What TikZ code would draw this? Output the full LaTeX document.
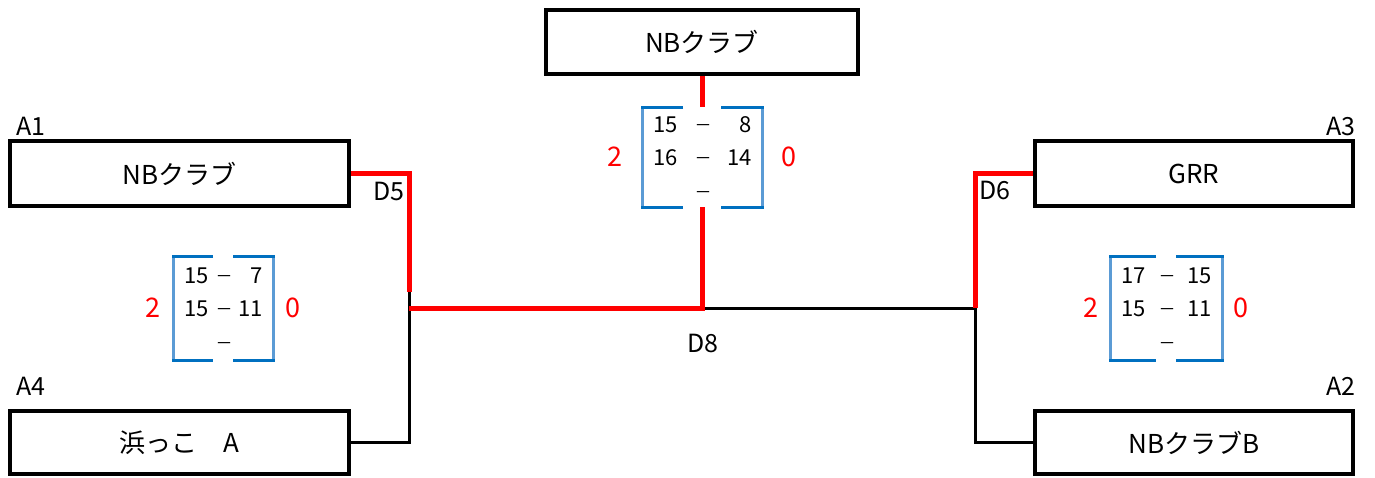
\documentclass[tikz,border=0pt]{standalone}
\usepackage{fontspec}
\setmainfont{Noto Sans CJK JP}
\definecolor{brdark}{RGB}{0,112,192}
\definecolor{brlight}{RGB}{91,155,213}
\begin{document}
\begin{tikzpicture}[x=1pt,y=-1pt,
	team/.style={draw,line width=4pt,inner sep=0pt,font=\fontsize{26}{30}\selectfont},
	seed/.style={inner sep=0pt,font=\fontsize{25}{28}\selectfont},
	win/.style={red,line width=5pt},
	lose/.style={black,line width=3pt},
	brk/.style={brdark,line width=3pt},
	pt/.style={inner sep=0pt,font=\fontsize{22}{25}\selectfont},
	bar/.style={inner sep=0pt,anchor=base,font=\fontsize{17}{20}\selectfont},
	sets/.style={red,inner sep=0pt,font=\fontsize{27}{30}\selectfont}]
	\useasboundingbox (0,0) rectangle (1375,477);
	% チーム
	\node[team,minimum width=312pt,minimum height=64pt] (top) at (702,42) {NBクラブ};
	\node[team,minimum width=339pt,minimum height=65pt] (a1) at (179.5,173.5) {NBクラブ};
	\node[team,minimum width=339pt,minimum height=63pt] (a4) at (179.5,442.5) {浜っこ　A};
	\node[team,minimum width=318pt,minimum height=65pt] (a3) at (1194,173.5) {GRR};
	\node[team,minimum width=318pt,minimum height=63pt] (a2) at (1194,442.5) {NBクラブB};
	\node[seed,anchor=base west] (la1) at (16,135) {A1};
	\node[seed,anchor=base west] (la4) at (16,395) {A4};
	\node[seed,anchor=base east] (la3) at (1356,135) {A3};
	\node[seed,anchor=base east] (la2) at (1356,395) {A2};
	% 山
	\coordinate (d5) at (409,308);
	\coordinate (d5r) at (409,292);
	\coordinate (d8) at (702,308);
	\coordinate (d6) at (975,308);
	\coordinate (f8t) at (702,107);
	\coordinate (f8b) at (702,207);
	\draw[lose] (a4.east) -| (d5r);
	\draw[lose] (a2.west) -| (d6) -- (d8);
	\draw[win] (a1.east) -| (d5r);
	\draw[win] (d5) -- (d8) -- (f8b);
	\draw[win] (top.south) -- (f8t);
	\draw[win] (a3.west) -| (d6);
	\node[seed,anchor=base west] (ld5) at (373,200) {D5};
	\node[seed,anchor=base west] (ld6) at (979,199) {D6};
	\node[seed,anchor=base] (ld8) at (703,352) {D8};
	% スコア
	\foreach \n/\cx/\cy/\hw/\hh/\hg/\ro/\pa/\pb/\qa/\qb in
		{s8/702/157/60/50/19/87/15/8/16/14,
		 s5/223/308/50/52/10/70/15/7/15/11,
		 s6/1166/308/56/52/10/75/17/15/15/11}{
		\draw[brk] ({\cx-\hg},{\cy-\hh}) -| ({\cx-\hw},{\cy+\hh}) -- ({\cx-\hg},{\cy+\hh});
		\draw[brk] ({\cx+\hg},{\cy-\hh}) -| ({\cx+\hw},{\cy+\hh}) -- ({\cx+\hg},{\cy+\hh});
		\draw[brlight,line width=3pt] ({\cx-\hw},{\cy-\hh+1.5}) -- ({\cx-\hw},{\cy+\hh-1.5});
		\draw[brlight,line width=3pt] ({\cx+\hw},{\cy-\hh+1.5}) -- ({\cx+\hw},{\cy+\hh-1.5});
		\node[pt,anchor=base west] (\n-a1) at ({\cx-\hw+11},{\cy-25}) {\pa};
		\node[pt,anchor=base east] (\n-b1) at ({\cx+\hw-10},{\cy-25}) {\pb};
		\node[pt,anchor=base west] (\n-a2) at ({\cx-\hw+11},{\cy+8}) {\qa};
		\node[pt,anchor=base east] (\n-b2) at ({\cx+\hw-10},{\cy+8}) {\qb};
		\foreach \r in {-26,7,41}
			\node[bar] at ({\cx+1},{\cy+\r}) {－};
		\node[sets] (\n-w) at ({\cx-\ro},\cy) {2};
		\node[sets] (\n-l) at ({\cx+\ro},\cy) {0};
	}
\end{tikzpicture}
\end{document}
